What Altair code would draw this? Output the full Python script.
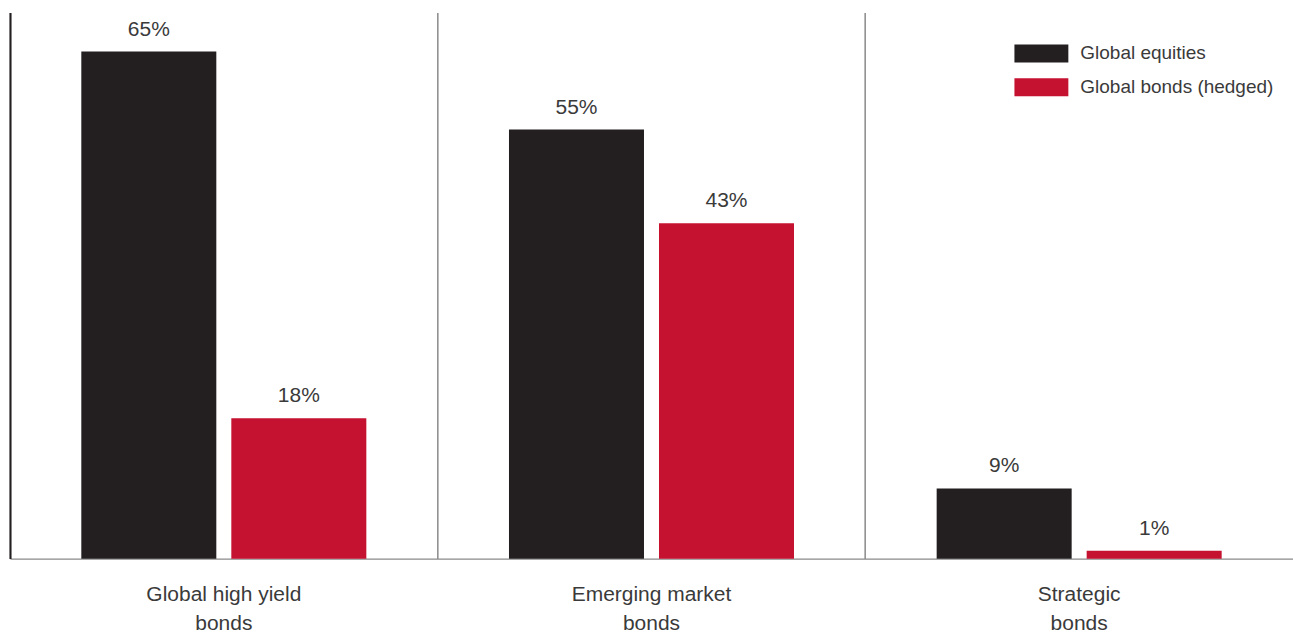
import altair as alt
import pandas as pd

categories = ["Global high yield|bonds", "Emerging market|bonds", "Strategic|bonds"]
series = ["Global equities", "Global bonds (hedged)"]
equities = [65, 55, 9]
bonds = [18, 43, 1]
colors = ["#231f20", "#c41230"]

rows = []
for c, e, b in zip(categories, equities, bonds):
    rows.append({"category": c, "series": series[0], "value": e, "label": f"{e}%"})
    rows.append({"category": c, "series": series[1], "value": b, "label": f"{b}%"})
df = pd.DataFrame(rows)

FONT = "Liberation Sans"
TXT = "#3a3a3a"

x_enc = alt.X(
    "category:N",
    sort=categories,
    scale=alt.Scale(paddingInner=0, paddingOuter=0),
    axis=alt.Axis(
        title=None,
        labelAngle=0,
        labelExpr="split(datum.label, '|')",
        labelFontSize=21,
        labelColor=TXT,
        labelFont=FONT,
        labelPadding=25,
        labelLineHeight=29,
        ticks=False,
        domainColor="#8a8a8a",
        domainWidth=1.5,
        grid=True,
        gridColor="#8a8a8a",
        gridWidth=1.5,
        bandPosition=0,
    ),
)
xoff = alt.XOffset(
    "series:N",
    sort=series,
    scale=alt.Scale(paddingInner=0.1, paddingOuter=0.4755),
)
y_enc = alt.Y(
    "value:Q",
    scale=alt.Scale(domain=[0, 70], nice=False),
    axis=alt.Axis(
        title=None, labels=False, ticks=False, grid=False,
        domainColor="#231f20", domainWidth=2,
    ),
)

bars = alt.Chart(df).mark_bar().encode(
    x=x_enc,
    xOffset=xoff,
    y=y_enc,
    color=alt.Color(
        "series:N",
        sort=series,
        scale=alt.Scale(domain=series, range=colors),
        legend=alt.Legend(
            title=None,
            orient="none",
            legendX=1015,
            legendY=23,
            symbolType="M-1.5,-0.5h3v1h-3z",
            symbolSize=1296,
            symbolStrokeWidth=0,
            symbolOpacity=1,
            labelFontSize=19,
            labelFont=FONT,
            labelColor=TXT,
            labelOffset=21,
            labelLimit=400,
            rowPadding=6,
        ),
    ),
)

labels = alt.Chart(df).mark_text(
    baseline="alphabetic", dy=-16, fontSize=21, font=FONT, color=TXT
).encode(
    x=alt.X("category:N", sort=categories),
    xOffset=alt.XOffset("series:N", sort=series),
    y=alt.Y("value:Q"),
    text="label:N",
)

chart = (
    alt.layer(bars, labels)
    .properties(
        width=1285,
        height=547,
        padding={"left": 10, "top": 12, "right": 0, "bottom": 74},
        autosize=alt.AutoSizeParams(type="none"),
        background="white",
    )
    .configure_view(stroke=None)
)

chart.save("out.html", embed_options={"renderer": "svg", "actions": False})
